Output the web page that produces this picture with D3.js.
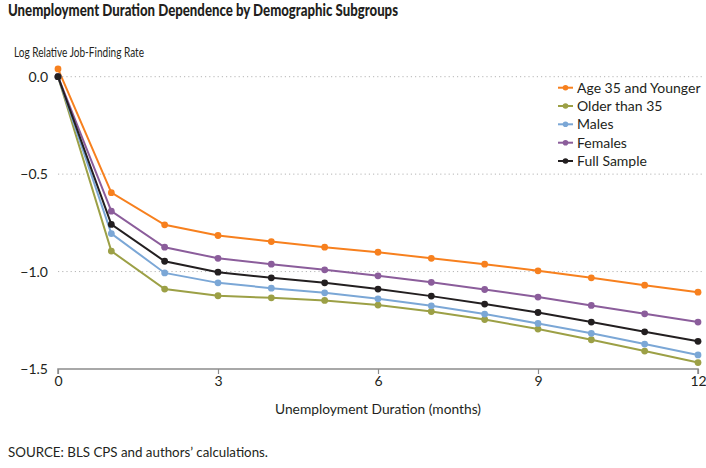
<!DOCTYPE html>
<html>
<head>
<meta charset="utf-8">
<script src="https://cdn.jsdelivr.net/npm/d3@7"></script>
<style>
  html, body { margin: 0; padding: 0; background: #fff; }
  svg { display: block; }
  text { font-family: Lato, "Open Sans", sans-serif; fill: #231f20; }
</style>
</head>
<body>
<svg id="chart" width="706" height="468"></svg>
<script>
// ---- Data ----
const months = [0, 1, 2, 3, 4, 5, 6, 7, 8, 9, 10, 11, 12];
const seriesNames = ["Age 35 and Younger", "Older than 35", "Males", "Females", "Full Sample"];
const age35AndYounger = [0.04, -0.595, -0.76, -0.815, -0.846, -0.875, -0.901, -0.932, -0.962, -0.996, -1.032, -1.070, -1.106];
const olderThan35     = [0.0, -0.895, -1.090, -1.124, -1.135, -1.148, -1.172, -1.205, -1.246, -1.295, -1.350, -1.408, -1.467];
const males           = [0.0, -0.805, -1.007, -1.058, -1.085, -1.109, -1.140, -1.176, -1.218, -1.266, -1.317, -1.372, -1.428];
const females         = [0.0, -0.690, -0.875, -0.932, -0.962, -0.991, -1.022, -1.055, -1.092, -1.131, -1.174, -1.217, -1.259];
const fullSample      = [0.0, -0.758, -0.947, -1.003, -1.032, -1.058, -1.090, -1.126, -1.167, -1.210, -1.259, -1.309, -1.358];
const xTicks = [0, 3, 6, 9, 12];
const yTicks = [0, -0.5, -1.0, -1.5];
const titleText = "Unemployment Duration Dependence by Demographic Subgroups";
const yAxisTitle = "Log Relative Job-Finding Rate";
const xAxisTitle = "Unemployment Duration (months)";
const sourceText = "SOURCE: BLS CPS and authors\u2019 calculations.";

const colors = ["#f7801e", "#9ca046", "#7ba7d6", "#8b5d9b", "#231f20"];
const seriesValues = [age35AndYounger, olderThan35, males, females, fullSample];

// ---- Layout ----
const svg = d3.select("#chart");
const x = d3.scaleLinear().domain([0, 12]).range([58, 698]);
const y = d3.scaleLinear().domain([-1.5, 0]).range([369, 76.7]);

// Title
svg.append("text").attr("x", 8).attr("y", 16)
  .attr("font-size", 16).attr("font-weight", "900")
  .attr("textLength", 390).attr("lengthAdjust", "spacingAndGlyphs")
  .text(titleText);

// Y axis title
svg.append("text").attr("x", 14).attr("y", 57)
  .attr("font-size", 14)
  .attr("textLength", 130).attr("lengthAdjust", "spacingAndGlyphs")
  .text(yAxisTitle);

// Gridlines
svg.append("g").selectAll("line")
  .data(yTicks.filter(d => d !== -1.5))
  .join("line")
  .attr("x1", x(0)).attr("x2", x(12) + 4)
  .attr("y1", d => y(d)).attr("y2", d => y(d))
  .attr("stroke", "#b5b5b5").attr("stroke-width", 1)
  .attr("stroke-dasharray", "1.2,3");

// Y tick labels
const fmtY = d => (d < 0 ? "\u2212" : "") + Math.abs(d).toFixed(1);
svg.append("g").selectAll("text")
  .data(yTicks)
  .join("text")
  .attr("x", 48).attr("y", d => y(d) + 5)
  .attr("text-anchor", "end").attr("font-size", 14)
  .text(fmtY);

// X axis
const xAxis = d3.axisBottom(x).tickValues(xTicks).tickSize(5).tickPadding(2).tickFormat(d3.format("d"));
const gx = svg.append("g").attr("transform", `translate(0,${y(-1.5)})`).call(xAxis);
gx.select(".domain").attr("stroke", "#8c8c8c").attr("stroke-width", 1.5)
  .attr("d", `M${x(0)},5V0H${x(12)}V5`);
gx.selectAll(".tick line").attr("stroke", "#8c8c8c").attr("stroke-width", 1.2);
gx.selectAll(".tick text").attr("font-size", 14).attr("fill", "#231f20")
  .attr("font-family", "Lato, 'Open Sans', sans-serif");

// X axis title
svg.append("text").attr("x", 378).attr("y", 414)
  .attr("text-anchor", "middle").attr("font-size", 14)
  .attr("textLength", 206).attr("lengthAdjust", "spacingAndGlyphs")
  .text(xAxisTitle);

// Source
svg.append("text").attr("x", 8).attr("y", 457)
  .attr("font-size", 14)
  .attr("textLength", 260).attr("lengthAdjust", "spacingAndGlyphs")
  .text(sourceText);

// Lines and points
const line = d3.line().x((d, i) => x(months[i])).y(d => y(d));
[0, 1, 2, 3, 4].forEach(k => {
  const g = svg.append("g");
  g.append("path").datum(seriesValues[k])
    .attr("d", line).attr("fill", "none")
    .attr("stroke", colors[k]).attr("stroke-width", 2);
  g.selectAll("circle").data(seriesValues[k]).join("circle")
    .attr("cx", (d, i) => x(months[i])).attr("cy", d => y(d))
    .attr("r", 3.4).attr("fill", colors[k]);
});

// Legend
const legendY = [87.7, 106, 124.3, 142.7, 161];
const lg = svg.append("g");
seriesNames.forEach((name, k) => {
  const yy = legendY[k];
  lg.append("line").attr("x1", 558).attr("x2", 573).attr("y1", yy).attr("y2", yy)
    .attr("stroke", colors[k]).attr("stroke-width", 2);
  lg.append("circle").attr("cx", 565.5).attr("cy", yy).attr("r", 2.8).attr("fill", colors[k]);
  lg.append("text").attr("x", 577).attr("y", yy + 5).attr("font-size", 14).text(name);
});
</script>
</body>
</html>
